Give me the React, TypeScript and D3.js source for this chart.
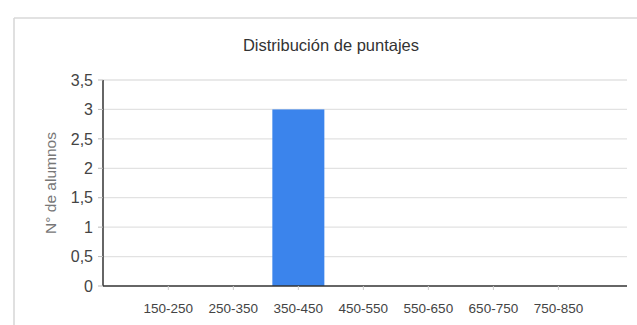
import React from "react";
import * as d3 from "d3";

const categories = ["150-250", "250-350", "350-450", "450-550", "550-650", "650-750", "750-850"];
const counts = [0, 0, 3, 0, 0, 0, 0];
const yTicks = [0, 0.5, 1, 1.5, 2, 2.5, 3, 3.5];
const title = "Distribución de puntajes";
const yLabel = "N° de alumnos";

const W = 637;
const H = 325;
const left = 103;
const right = 627;
const top = 80;
const bottom = 286;

export default function App() {
  const x = d3
    .scaleBand<string>()
    .domain(categories)
    .range([left, right])
    .paddingInner(0.2)
    .paddingOuter(0.63)
    .align(0.48);
  const y = d3.scaleLinear().domain([0, 3.5]).range([bottom, top]);
  const fmt = (v: number) => String(v).replace(".", ",");
  const font = "'Liberation Sans', Arial, sans-serif";

  return (
    <svg
      width={W}
      height={H}
      style={{ position: "absolute", left: 0, top: 0, background: "#fff" }}
      fontFamily={font}
    >
      <rect x={0} y={0} width={W} height={H} fill="#fff" />
      {/* frame */}
      <line x1={14} x2={W} y1={18} y2={18} stroke="#d9d9d9" strokeWidth={1.6} />
      <line x1={14} x2={14} y1={18} y2={H} stroke="#d9d9d9" strokeWidth={1.6} />

      {/* title */}
      <text x={331} y={51} textAnchor="middle" fontSize={16.5} fill="#333">
        {title}
      </text>

      {/* gridlines */}
      {yTicks.slice(1).map((t) => (
        <line key={t} x1={left} x2={right} y1={y(t)} y2={y(t)} stroke="#e2e2e2" strokeWidth={1.3} />
      ))}

      {/* bars */}
      {categories.map((c, i) =>
        counts[i] > 0 ? (
          <rect
            key={c}
            x={x(c)}
            y={y(counts[i])}
            width={x.bandwidth()}
            height={y(0) - y(counts[i])}
            fill="#3b84ec"
          />
        ) : null
      )}

      {/* y axis */}
      <line x1={left} x2={left} y1={top} y2={bottom} stroke="#333" strokeWidth={1.5} />
      {yTicks.map((t) => (
        <g key={t}>
          <line x1={left - 5} x2={left} y1={y(t)} y2={y(t)} stroke="#bbb" strokeWidth={1} />
          <text x={93} y={y(t)} dy="0.36em" textAnchor="end" fontSize={16} fill="#444">
            {fmt(t)}
          </text>
        </g>
      ))}

      {/* x axis */}
      <line x1={left} x2={right} y1={bottom} y2={bottom} stroke="#333" strokeWidth={1.5} />
      {categories.map((c) => {
        const cx = (x(c) as number) + x.bandwidth() / 2;
        return (
          <g key={c}>
            <line x1={cx} x2={cx} y1={bottom} y2={bottom + 4} stroke="#ccc" strokeWidth={1} />
            <text x={cx} y={313} textAnchor="middle" fontSize={13.5} fill="#444">
              {c}
            </text>
          </g>
        );
      })}

      {/* y label */}
      <text
        transform={`translate(56,183) rotate(-90)`}
        textAnchor="middle"
        fontSize={15.5}
        fill="#777"
      >
        {yLabel}
      </text>
    </svg>
  );
}
